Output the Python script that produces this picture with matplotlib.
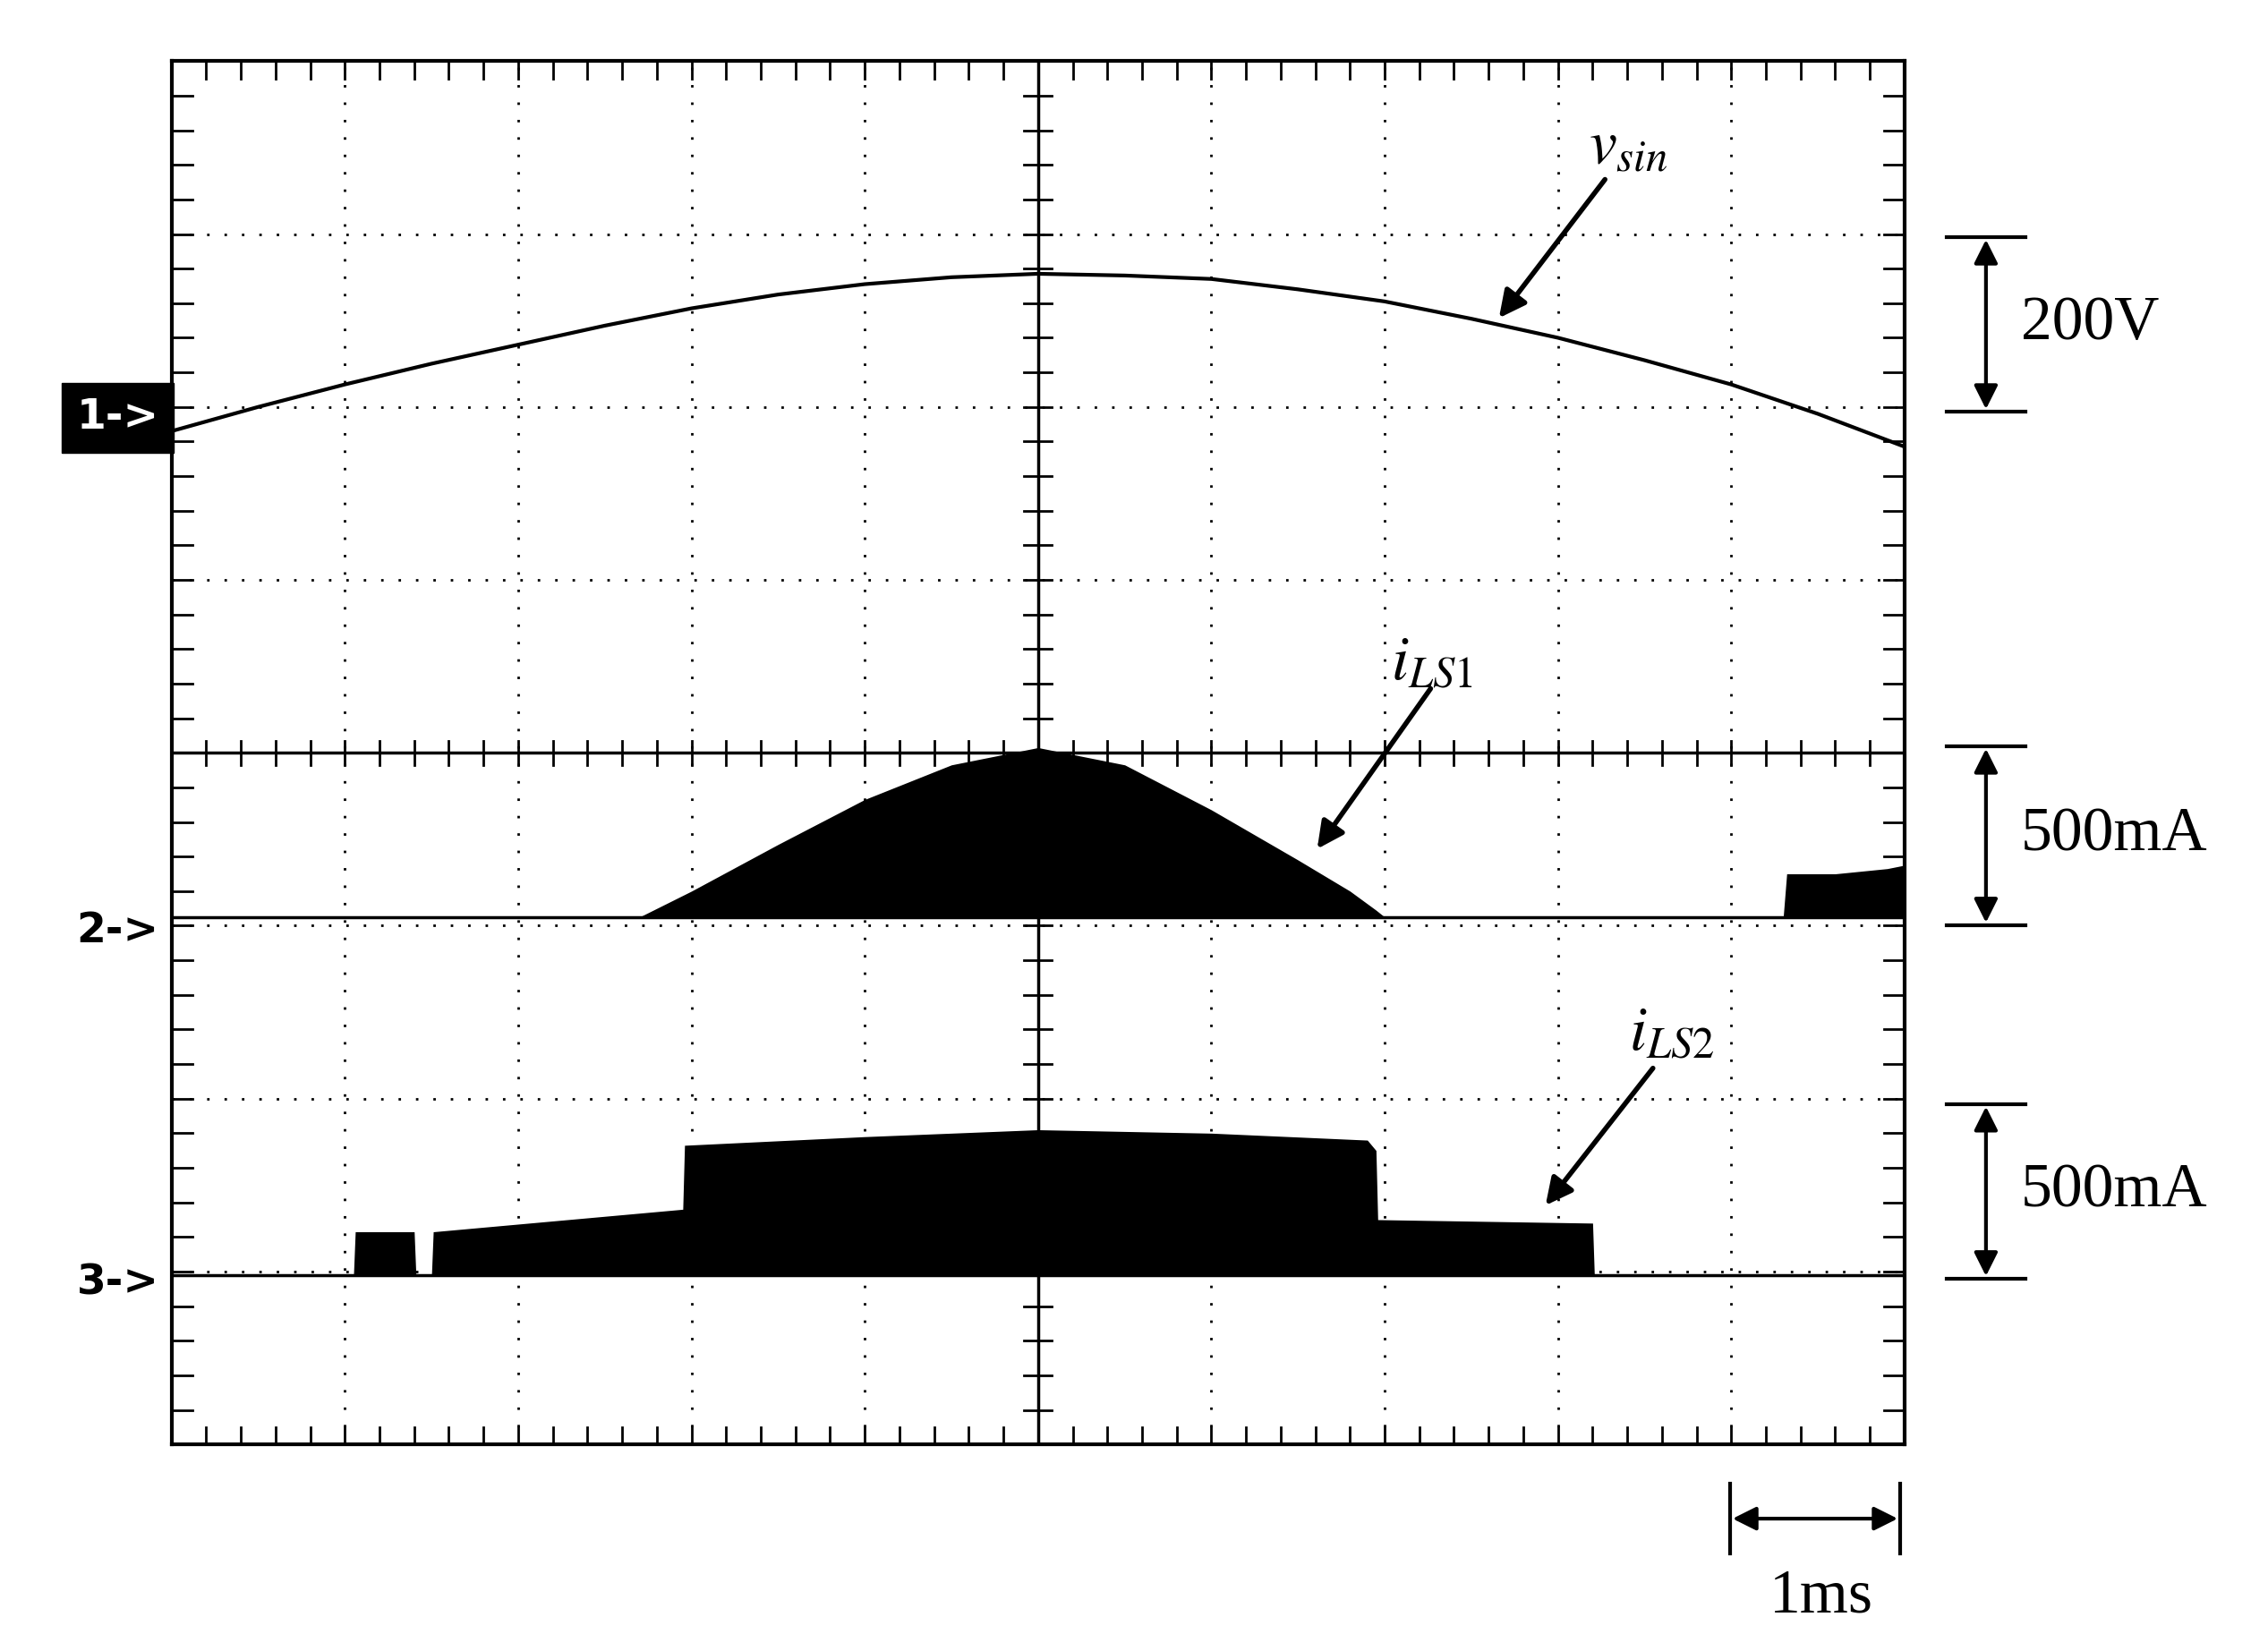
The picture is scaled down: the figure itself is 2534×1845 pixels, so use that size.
import matplotlib
matplotlib.use("Agg")
import matplotlib.pyplot as plt
import numpy as np
plt.rcParams['mathtext.fontset'] = 'stix'

# ---- data (in divisions) ----
vsin_x = [0, 0.5, 1, 1.5, 2, 2.5, 3, 3.5, 4, 4.5, 5, 5.5, 6, 6.5, 7, 7.5, 8, 8.5, 9, 9.5, 10]
vsin_y = [-0.14, 0.0, 0.13, 0.25, 0.36, 0.47, 0.57, 0.65, 0.71, 0.75, 0.77, 0.76, 0.74, 0.68, 0.61, 0.51, 0.40, 0.27, 0.13, -0.04, -0.23]
ils1_x = [0, 2.7, 3.0, 3.5, 4.0, 4.5, 5.0, 5.5, 6.0, 6.5, 6.8, 6.95, 7.0, 9.3, 9.32, 9.6, 9.9, 10]
ils1_y = [0, 0, 0.15, 0.42, 0.68, 0.88, 0.98, 0.88, 0.62, 0.33, 0.15, 0.04, 0, 0, 0.25, 0.25, 0.28, 0.3]
ils2_x = [0, 1.05, 1.06, 1.4, 1.41, 1.5, 1.51, 2.95, 2.96, 4.0, 5.0, 6.0, 6.9, 6.95, 6.96, 8.2, 8.21, 10]
ils2_y = [0, 0, 0.25, 0.25, 0, 0, 0.25, 0.38, 0.75, 0.8, 0.84, 0.82, 0.78, 0.72, 0.32, 0.3, 0, 0]
ch_zero = [6.0, 3.05, 0.98]

W, H = 2534, 1845
fig = plt.figure(figsize=(W/100, H/100), dpi=100)
S = 1560.0; SH = 1135.0
ax = fig.add_axes([118/S, 1-993/SH, (1310-118)/S, (993-42)/SH])
ax.set_xlim(0, 10); ax.set_ylim(0, 8)
ax.set_xticks([]); ax.set_yticks([])
for s in ax.spines.values():
    s.set_linewidth(3)
for i in range(1, 10):
    ax.axvline(i, color='k', ls=(0, (1, 6)), lw=2)
for j in range(1, 8):
    ax.axhline(j, color='k', ls=(0, (1, 6)), lw=2)
ax.axvline(5, color='k', lw=2.5)
ax.axhline(4, color='k', lw=2.5)
mt = np.arange(0, 10.01, 0.2)
mty = np.arange(0, 8.01, 0.2)
for x in mt:
    for yb, L in [(0, 0.1), (8, -0.1), (4, 0.07), (4, -0.07)]:
        ax.plot([x, x], [yb, yb+L], color='k', lw=2)
for y in mty:
    for xb, L in [(0, 0.12), (10, -0.12), (5, 0.08), (5, -0.08)]:
        ax.plot([xb, xb+L], [y, y], color='k', lw=2)

ax.plot(vsin_x, np.array(vsin_y)+ch_zero[0], color='k', lw=3)
ax.fill_between(ils1_x, ch_zero[1], np.array(ils1_y)+ch_zero[1], color='k', lw=0)
ax.axhline(ch_zero[1], color='k', lw=2.5)
ax.fill_between(ils2_x, ch_zero[2], np.array(ils2_y)+ch_zero[2], color='k', lw=0)
ax.axhline(ch_zero[2], color='k', lw=2.5)

ov = fig.add_axes([0, 0, 1, 1], facecolor='none')
ov.set_xlim(0, S); ov.set_ylim(SH, 0); ov.axis('off')
serif = 'Liberation Serif'
def vbar(x, y0, y1, label):
    ov.annotate('', xy=(x, y0), xytext=(x, y1), arrowprops=dict(arrowstyle='<|-|>', color='k', lw=3, mutation_scale=40))
    ov.plot([x-27, x+27], [y0, y0], color='k', lw=3)
    ov.plot([x-27, x+27], [y1, y1], color='k', lw=3)
    ov.text(1390, (y0+y1)/2, label, fontsize=50, family=serif, va='center', ha='left')
vbar(1366, 163, 283, '200V')
vbar(1366, 513, 636, '500mA')
vbar(1366, 759, 879, '500mA')
ov.annotate('', xy=(1190, 1044), xytext=(1307, 1044), arrowprops=dict(arrowstyle='<|-|>', color='k', lw=3, mutation_scale=40))
ov.plot([1190, 1190], [1020, 1068], color='k', lw=3)
ov.plot([1307, 1307], [1020, 1068], color='k', lw=3)
ov.text(1253, 1098, '1ms', fontsize=50, family=serif, ha='center', va='center')

def lab(x, y, t, ax0, ay0, ax1, ay1):
    ov.text(x, y, t, fontsize=50, ha='center', va='center')
    ov.annotate('', xy=(ax1, ay1), xytext=(ax0, ay0), arrowprops=dict(arrowstyle='-|>', color='k', lw=4, mutation_scale=45))
lab(1120, 100, r'$v_{sin}$', 1105, 122, 1030, 220)
lab(985, 455, r'$i_{LS\mathrm{1}}$', 985, 472, 905, 585)
lab(1150, 710, r'$i_{LS\mathrm{2}}$', 1138, 733, 1062, 830)

ov.text(81, 287, '1->', fontsize=34, color='white', weight='bold', ha='center', va='center',
        bbox=dict(boxstyle='square,pad=0.35', fc='black', ec='black'))
ov.text(81, 640, '2->', fontsize=34, weight='bold', ha='center', va='center')
ov.text(81, 882, '3->', fontsize=34, weight='bold', ha='center', va='center')

fig.savefig('out.png', dpi=100)
